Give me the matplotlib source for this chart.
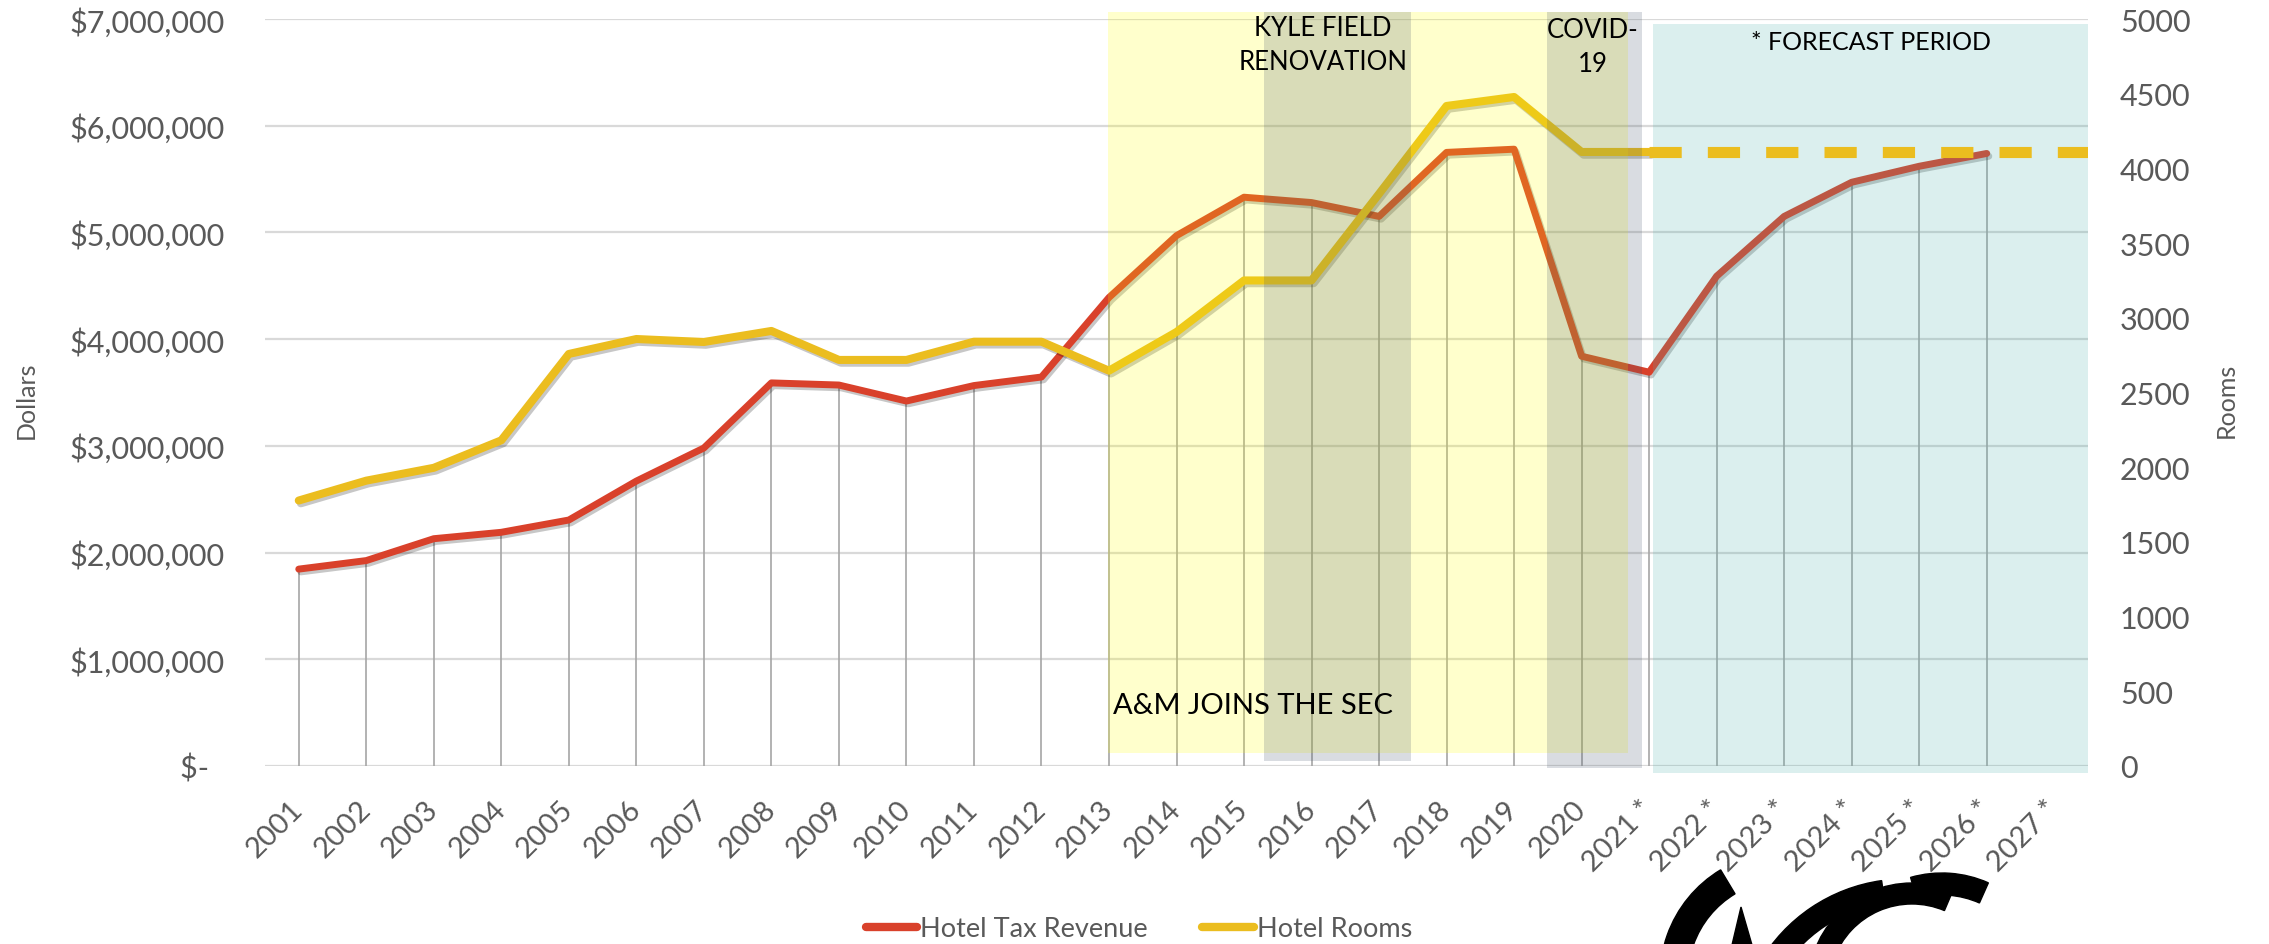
import matplotlib
matplotlib.use("Agg")
import matplotlib.pyplot as plt
import matplotlib.patheffects as pe
import matplotlib.transforms as mtransforms
from matplotlib.lines import Line2D
from matplotlib.patches import Rectangle, Wedge, Polygon

plt.rcParams['font.family'] = ['Lato', 'DejaVu Sans']

# data
years = [str(y) for y in range(2001, 2021)] + [f"{y} *" for y in range(2021, 2028)]
tax_revenue = [1845000, 1925000, 2130000, 2190000, 2305000, 2670000, 2980000,
               3590000, 3570000, 3420000, 3565000, 3645000, 4390000, 4970000,
               5330000, 5280000, 5150000, 5750000, 5780000, 3840000, 3690000,
               4590000, 5150000, 5470000, 5620000, 5740000]
hotel_rooms = [1777, 1910, 1996, 2180, 2758, 2858, 2838, 2912, 2718, 2718,
               2840, 2840, 2646, 2905, 3250, 3250, 3830, 4418, 4478, 4110, 4110]
rooms_forecast = 4110

RED = '#D9412B'
YELLOW = '#EBBD1F'
GREY_TXT = '#595959'

fig = plt.figure(figsize=(22.69, 9.45), dpi=100, facecolor='white')
ax = fig.add_axes([265 / 2269, 1 - 767 / 945, (2088 - 265) / 2269, 747 / 945])
ax2 = ax.twinx()

xs = list(range(len(years)))
ax.set_xlim(-0.5, len(years) - 0.5)

# primary axis: dollars
ax.set_ylim(0, 7000000)
yt = list(range(0, 7000001, 1000000))
ax.set_yticks(yt)
ax.set_yticklabels(['$-  ' if v == 0 else f'${v:,.0f}' for v in yt],
                   fontsize=22, color=GREY_TXT)
ax.yaxis.grid(True, color='#D9D9D9', lw=1.6, zorder=0)
ax.set_axisbelow(True)
ax.tick_params(axis='y', length=0, pad=29)

ax.set_xticks(xs)
ax.set_xticklabels(years, rotation=45, ha='right', va='center',
                   rotation_mode='anchor', fontsize=21, color=GREY_TXT)
ax.tick_params(axis='x', length=0, pad=28)

for s in ax.spines.values():
    s.set_visible(False)
for s in ax2.spines.values():
    s.set_visible(False)

shadow = [pe.SimpleLineShadow(offset=(1.5, -2.0), shadow_color='black', alpha=0.22),
          pe.Normal()]

# drop lines and revenue line
rx = xs[:len(tax_revenue)]
ax.vlines(rx, 0, tax_revenue, color='#A6A6A6', lw=1.2, zorder=1)
ax.plot(rx, tax_revenue, color=RED, lw=5, solid_joinstyle='round',
        solid_capstyle='round', zorder=3, path_effects=shadow)

# secondary axis: rooms
ax2.set_ylim(0, 5000)
ax2.set_yticks(range(0, 5001, 500))
ax2.set_yticklabels([str(v) for v in range(0, 5001, 500)], fontsize=22, color=GREY_TXT)
ax2.tick_params(axis='y', length=0, pad=23)
ax2.plot(xs[:len(hotel_rooms)], hotel_rooms, color=YELLOW, lw=5.8,
         solid_joinstyle='round', solid_capstyle='round', zorder=2,
         path_effects=shadow)

# shaded periods (category index spans, axes-fraction heights)
blend = mtransforms.blended_transform_factory(ax2.transData, ax2.transAxes)
boxes = [
    (11.99, 19.68, 0.0174, 1.0094, '#FFFF00'),
    (14.30, 16.48, 0.0067, 1.0094, '#44546A'),
    (18.48, 19.89, -0.0027, 1.0094, '#44546A'),
    (20.05, 26.50, -0.0094, 0.9933, '#4BB0AA'),
]
for x0, x1, y0, y1, c in boxes:
    ax2.add_patch(Rectangle((x0, y0), x1 - x0, y1 - y0, transform=blend,
                            facecolor=c, alpha=0.2, lw=0, zorder=4, clip_on=False))

# forecast dashed level
f0 = years.index('2021 *')
ax2.hlines(rooms_forecast, f0, ax2.get_xlim()[1], color=YELLOW, lw=8,
           linestyles=(0, (2.9, 2.35)), capstyle='butt', zorder=5)

ax2.text(15.17, 0.966, 'KYLE FIELD\nRENOVATION', transform=blend, ha='center',
         va='center', fontsize=18.5, linespacing=1.45, color='black', zorder=6)
ax2.text(19.17, 0.963, 'COVID-\n19', transform=blend, ha='center',
         va='center', fontsize=18.5, linespacing=1.45, color='black', zorder=6)
ax2.text(23.29, 0.9705, '* FORECAST PERIOD', transform=blend, ha='center',
         va='center', fontsize=18, color='black', zorder=6)
ax2.text(12.06, 0.0817, 'A&M JOINS THE SEC', transform=blend, ha='left',
         va='center', fontsize=21, color='black', zorder=6)

# axis titles
fig.text(26 / 2269, 1 - 400 / 945, 'Dollars', rotation=90, ha='center',
         va='center', fontsize=18, color=GREY_TXT)
fig.text(2226 / 2269, 1 - 400 / 945, 'Rooms', rotation=90, ha='center',
         va='center', fontsize=18, color=GREY_TXT)

# legend
handles = [Line2D([], [], color=RED, lw=6, solid_capstyle='round'),
           Line2D([], [], color=YELLOW, lw=6, solid_capstyle='round')]
fig.legend(handles, ['Hotel Tax Revenue', 'Hotel Rooms'], loc='center',
           bbox_to_anchor=(1139 / 2269, 1 - 930 / 945), ncol=2, frameon=False,
           fontsize=19.5, handlelength=1.9, handletextpad=0.12, columnspacing=2.0,
           labelcolor=GREY_TXT, borderpad=0)

# partially visible logo, bottom right
lax = fig.add_axes([0, 0, 1, 1], zorder=20)
lax.set_xlim(0, 2269)
lax.set_ylim(0, 945)
lax.axis('off')
H = 945
lax.add_patch(Wedge((1785, H - 978), 125, 121, 200, width=28, color='black'))
lax.add_patch(Polygon([(1741, H - 908), (1732, H - 946), (1752, H - 946)], color='black'))
lax.add_patch(Wedge((1905, H - 1048), 168, 98, 150, width=23, color='black'))
lax.add_patch(Wedge((1912, H - 988), 104, 67, 160, width=21, color='black'))
lax.add_patch(Wedge((1942, H - 988), 114, 66, 106, width=22, color='black'))

fig.savefig('out.png', dpi=100, facecolor='white')
